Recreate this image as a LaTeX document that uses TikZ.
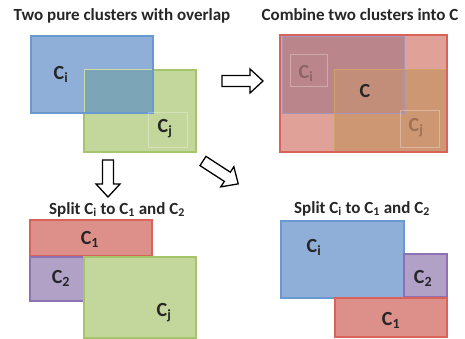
\documentclass[tikz,border=0pt]{standalone}
\usepackage{fontspec}
\setmainfont{Carlito}
\definecolor{blueF}{HTML}{8FAED8}
\definecolor{blueD}{HTML}{6A98D0}
\definecolor{greenF}{HTML}{C3D69B}
\definecolor{greenD}{HTML}{A6C46C}
\definecolor{redF}{HTML}{DC9089}
\definecolor{redD}{HTML}{D9625A}
\definecolor{purpF}{HTML}{B2A1C7}
\definecolor{purpD}{HTML}{8D72B3}
\definecolor{ovlF}{HTML}{7DA5B8}
\definecolor{outF}{HTML}{E0A199}
\definecolor{mauveF}{HTML}{BA868C}
\definecolor{mauveD}{HTML}{A796B8}
\definecolor{orangeF}{HTML}{CE9774}
\definecolor{orangeD}{HTML}{D4A868}
\definecolor{cF}{HTML}{C38E79}
\definecolor{txt}{HTML}{262626}
\begin{document}
\begin{tikzpicture}[x=1pt,y=-1pt,
  title/.style={font=\bfseries\fontsize{17}{19}\selectfont, anchor=base, text=txt, inner sep=0},
  lab/.style={font=\bfseries\fontsize{20}{22}\selectfont, inner sep=0, text=txt},
  faintlab/.style={font=\bfseries\fontsize{20}{22}\selectfont, inner sep=0},
  bluebox/.style={fill=blueF, draw=blueD, line width=1.2pt},
  greenbox/.style={fill=greenF, draw=greenD, line width=1.2pt},
  redbox/.style={fill=redF, draw=redD, line width=1.2pt},
  purpbox/.style={fill=purpF, draw=purpD, line width=1.2pt},
  ghost/.style={draw=white, draw opacity=0.3, line width=0.5pt},
  arrowline/.style={draw=black, fill=white, line width=1.3pt, line join=miter},
  pics/harrow/.style={code={
    \draw[arrowline] (0,-5.5) -- ({#1-13},-5.5) -- ({#1-13},-12) -- (#1,0)
      -- ({#1-13},12) -- ({#1-13},5.5) -- (0,5.5) -- cycle;}}
]
\useasboundingbox (0,0) rectangle (465,339);
\fill[white] (0,0) rectangle (465,339);

% ---------- Panel 1 ----------
\node[title] (t1) at (122,21) {Two pure clusters with overlap};
\draw[greenbox] (84,70) rectangle (196,152);
\fill[blueF] (31,36) rectangle (153,113);
\fill[ovlF] (84,70) rectangle (153,113);
\draw[draw=greenD!60!white, line width=1pt] (84,113) -- (84,70) -- (153,70);
\draw[draw=blueD, line width=1.2pt] (31,36) rectangle (153,113);
\draw[ghost] (148,112) rectangle (187,147);
\node[lab] (ci1) at (61,74) {C\textsubscript{i}};
\node[lab] (cj1) at (165,129) {C\textsubscript{j}};

% ---------- Panel 2 ----------
\node[title] (t2) at (360,21) {Combine two clusters into C};
\fill[outF] (280,35) rectangle (447,152);
\fill[mauveF] (282,36) rectangle (404,113);
\fill[orangeF] (334,69) rectangle (447,152);
\fill[cF] (334,69) rectangle (404,113);
\draw[draw=mauveD, line width=0.9pt] (282,36) rectangle (404,113);
\draw[draw=orangeD, line width=0.9pt, draw opacity=0.8] (334,152) -- (334,69) -- (447,69);
\draw[draw=redD, line width=1.3pt] (280,35) rectangle (447,152);
\draw[ghost] (290,54) rectangle (327,86);
\draw[ghost] (400,110) rectangle (439,147);
\node[faintlab, text=mauveF!75!black] (ci2) at (306,73) {C\textsubscript{i}};
\node[lab] (c2) at (365,91) {C};
\node[faintlab, text=orangeF!75!black] (cj2) at (416,128) {C\textsubscript{j}};

% ---------- Arrows ----------
\pic at (222,81) {harrow=41};
\pic[rotate=-90] at (108,160) {harrow=37};
\pic[rotate=-33] at (203,161) {harrow=42};

% ---------- Panel 3 ----------
\node[title] (t3) at (117,214) {Split C\textsubscript{i} to C\textsubscript{1} and C\textsubscript{2}};
\draw[redbox] (30,220) rectangle (152,256);
\draw[purpbox] (30,257) rectangle (84,301);
\draw[greenbox] (84,257) rectangle (196,338);
\node[lab] (c1a) at (90,239) {C\textsubscript{1}};
\node[lab] (c2a) at (61,278) {C\textsubscript{2}};
\node[lab] (cja) at (164,313) {C\textsubscript{j}};

% ---------- Panel 4 ----------
\node[title] (t4) at (362,213) {Split C\textsubscript{i} to C\textsubscript{1} and C\textsubscript{2}};
\draw[bluebox] (281,221) rectangle (404,298);
\draw[purpbox] (404,254) rectangle (447,297);
\draw[redbox] (335,298) rectangle (447,337);
\node[lab] (cib) at (314,247) {C\textsubscript{i}};
\node[lab] (c2b) at (423,278) {C\textsubscript{2}};
\node[lab] (c1b) at (391,320) {C\textsubscript{1}};
\end{tikzpicture}
\end{document}
